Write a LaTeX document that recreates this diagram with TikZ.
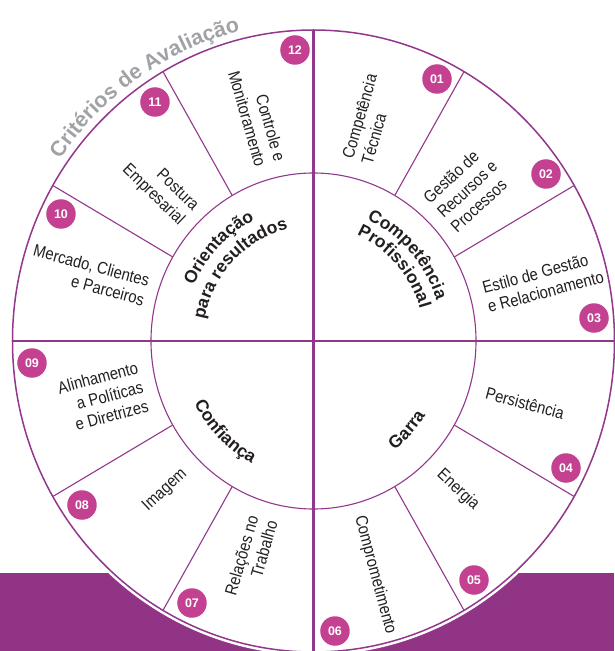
\documentclass[tikz,border=0pt]{standalone}
\usepackage{fontspec}
\setmainfont{Liberation Sans}
\newfontfamily\narrowfont[FakeStretch=0.87]{Liberation Sans}
\usetikzlibrary{decorations.text}
\definecolor{linepurple}{RGB}{145,56,140}
\definecolor{bandpurple}{RGB}{146,52,134}
\definecolor{badgepink}{RGB}{196,64,145}
\definecolor{titlegray}{RGB}{160,162,165}
\definecolor{textblack}{RGB}{35,31,32}
\tikzset{
  badge/.style={circle, fill=badgepink, minimum size=29.5pt, inner sep=0pt, text=white,
    font=\bfseries\fontsize{12.5}{12.5}\selectfont},
  sector/.style={font=\narrowfont\fontsize{17}{20}\selectfont, text=textblack, inner sep=0pt},
  radial/.style={draw=linepurple, line width=1.1pt},
  crossline/.style={draw=linepurple, line width=2.2pt},
  curved/.style={decorate, decoration={text along path, text align=center, text color=textblack,
    text={|\bfseries\fontsize{17.5}{17.5}\selectfont|#1}}}
}
\begin{document}
\begin{tikzpicture}[x=1pt,y=1pt]
\useasboundingbox (-313.5,-310) rectangle (300.5,341);
% purple band
\fill[bandpurple] (-313.5,-310) rectangle (300.5,-232);
% outer disc
\fill[white] (0,0) ellipse [x radius=301pt, y radius=311pt];
\draw[white, line width=4.5pt] (0,0) ellipse [x radius=302pt, y radius=312pt];
\draw[linepurple, line width=1.5pt] (0,0) ellipse [x radius=301pt, y radius=311pt];
% inner circle
\draw[radial] (0,0) ellipse [x radius=162.5pt, y radius=168pt];
% radial dividers
\foreach \a in {30,60,120,150,210,240,300,330}
  \draw[radial] ({162.5*cos(\a)},{168*sin(\a)}) -- ({301*cos(\a)},{311*sin(\a)});
% cross
\draw[crossline] (0,311) -- (0,-310);
\draw[crossline] (-301,0) -- (300.5,0);
% title
\path[decorate, decoration={text along path, text align=center, text color=titlegray,
  text={|\bfseries\fontsize{21.5}{21.5}\selectfont|Critérios de Avaliação}}]
  ({308*cos(147)},{319*sin(147)}) arc[start angle=147, end angle=102, x radius=308pt, y radius=319pt];
% badges
\node[badge] (b01) at (123.5,262) {01};
\node[badge] (b02) at (232.5,167) {02};
\node[badge] (b03) at (280.5,23) {03};
\node[badge] (b04) at (252.5,-127) {04};
\node[badge] (b05) at (160.5,-239) {05};
\node[badge] (b06) at (21.5,-290) {06};
\node[badge] (b07) at (-121.5,-262) {07};
\node[badge] (b08) at (-231.5,-164) {08};
\node[badge] (b09) at (-281.5,-22) {09};
\node[badge] (b10) at (-252.5,127) {10};
\node[badge] (b11) at (-158.5,239) {11};
\node[badge] (b12) at (-18.5,291) {12};
% sector labels
\node[sector, align=left, rotate=74] (l01) at (55.5,222) {Competência\\Técnica};
\node[sector, align=left, rotate=43] (l02) at (153.5,152) {Gestão de\\Recursos e\\Processos};
\node[sector, align=left, rotate=15] (l03) at (229.5,59) {Estilo de Gestão\\e Relacionamento};
\node[sector, rotate=-15] (l04) at (211.5,-62) {Persistência};
\node[sector, rotate=-43] (l05) at (144.5,-149) {Energia};
\node[sector, rotate=-75] (l06) at (61.5,-234) {Comprometimento};
\node[sector, align=right, rotate=74] (l07) at (-62.5,-217) {Relações no\\Trabalho};
\node[sector, rotate=43] (l08) at (-148.5,-149) {Imagem};
\node[sector, align=right, rotate=15] (l09) at (-210.5,-56) {Alinhamento\\a Políticas\\e Diretrizes};
\node[sector, align=right, rotate=-15] (l10) at (-224.5,66) {Mercado, Clientes\\e Parceiros};
\node[sector, align=right, rotate=-44] (l11) at (-153.5,153) {Postura\\Empresarial};
\node[sector, align=right, rotate=-74] (l12) at (-56.5,225) {Controle e\\Monitoramento};
% central curved labels
\path[curved={Competência}] ({129*cos(87)},{133.5*sin(87)}) arc[start angle=87, end angle=-3, x radius=129pt, y radius=133.5pt];
\path[curved={Profissional}] ({111*cos(87)},{115*sin(87)}) arc[start angle=87, end angle=-3, x radius=111pt, y radius=115pt];
\path[curved={Orientação}] ({131*cos(181)},{135.5*sin(181)}) arc[start angle=181, end angle=91, x radius=131pt, y radius=135.5pt];
\path[curved={para resultados}] ({111*cos(181)},{115*sin(181)}) arc[start angle=181, end angle=91, x radius=111pt, y radius=115pt];
\path[curved={Confiança}] ({133.5*cos(180)},{138*sin(180)}) arc[start angle=180, end angle=270, x radius=133.5pt, y radius=138pt];
\path[curved={Garra}] ({133*cos(-88)},{137.5*sin(-88)}) arc[start angle=-88, end angle=2, x radius=133pt, y radius=137.5pt];
\end{tikzpicture}
\end{document}
